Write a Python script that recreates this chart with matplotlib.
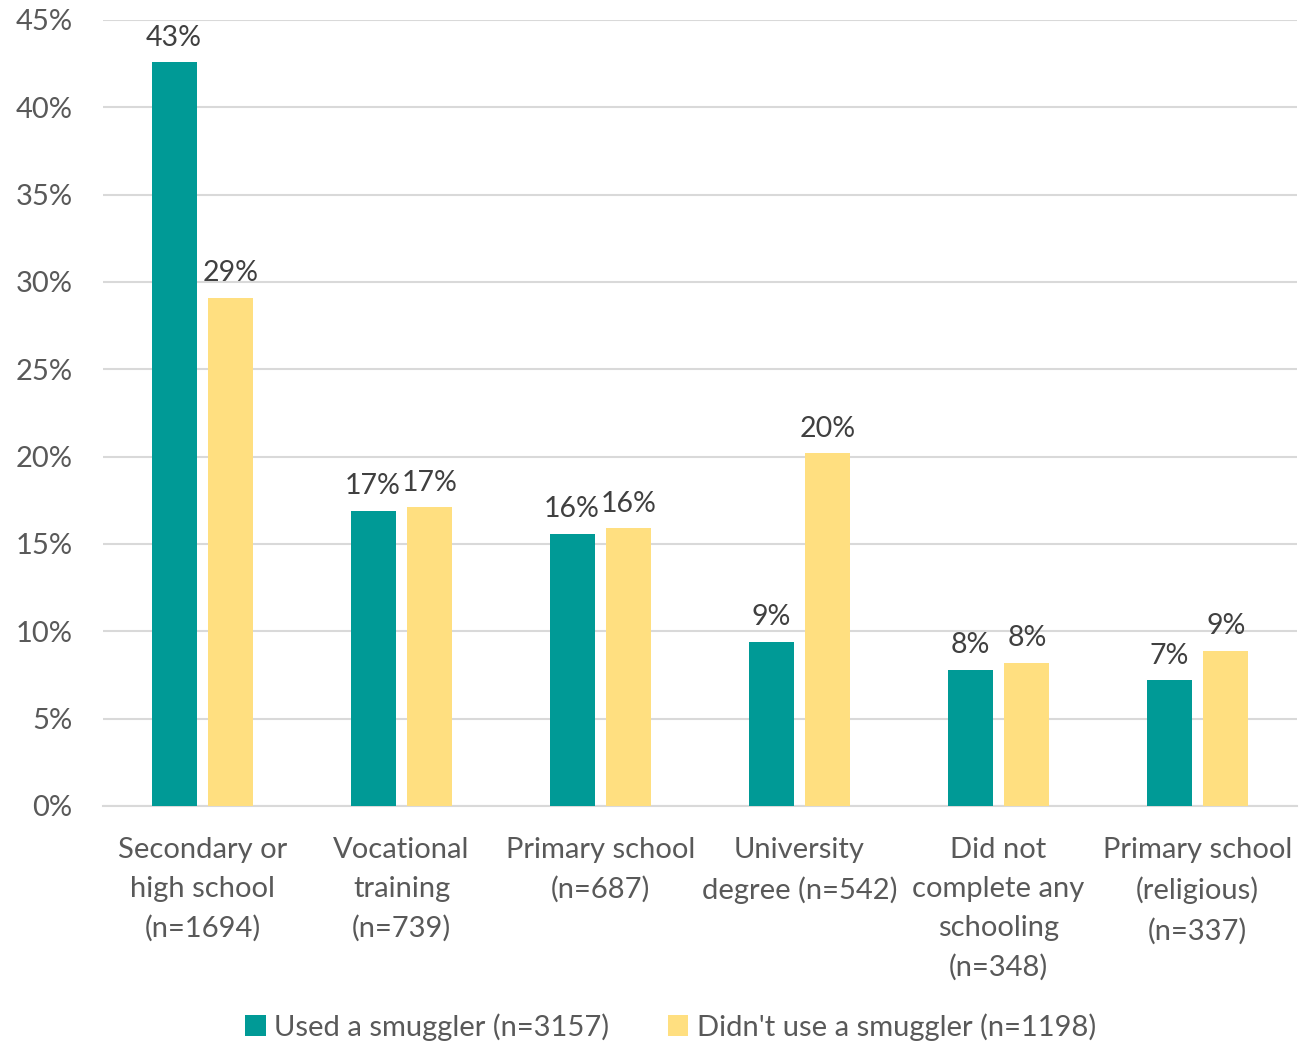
import numpy as np
import matplotlib.pyplot as plt

categories = ["Secondary or\nhigh school\n(n=1694)", "Vocational\ntraining\n(n=739)",
              "Primary school\n(n=687)", "University\ndegree (n=542)",
              "Did not\ncomplete any\nschooling\n(n=348)", "Primary school\n(religious)\n(n=337)"]
used = [42.6, 16.9, 15.6, 9.4, 7.8, 7.2]
not_used = [29.1, 17.1, 15.9, 20.2, 8.2, 8.9]
series_names = ["Used a smuggler (n=3157)", "Didn't use a smuggler (n=1198)"]

plt.rcParams['font.family'] = ['Lato', 'DejaVu Sans']

fig = plt.figure(figsize=(13.15, 10.44), dpi=100)
ax = fig.add_axes([103 / 1315, 238 / 1044, 1194 / 1315, 786 / 1044])

x = np.arange(len(categories))
w = 0.226
off = 0.143
b1 = ax.bar(x - off, used, w, color="#009A96", label=series_names[0], zorder=3)
b2 = ax.bar(x + off, not_used, w, color="#FFDF80", label=series_names[1], zorder=3)

for bars, vals in [(b1, used), (b2, not_used)]:
    for r, v in zip(bars, vals):
        ax.text(r.get_x() + r.get_width() / 2, v + 0.65, f"{round(v):.0f}%",
                ha="center", va="bottom", fontsize=20.5, color="#404040")

ax.set_xlim(-0.5, len(categories) - 0.5)
ax.set_ylim(0, 45)
ax.set_yticks(range(0, 46, 5))
ax.set_yticklabels([f"{t}%" for t in range(0, 46, 5)])
ax.set_xticks(x)
ax.set_xticklabels(categories, linespacing=1.62)
ax.tick_params(axis="both", length=0, labelsize=21, labelcolor="#595959")
ax.tick_params(axis="x", pad=22)
ax.tick_params(axis="y", pad=22)
ax.grid(axis="y", color="#D9D9D9", linewidth=1.5, zorder=0)
for s in ["top", "right", "left"]:
    ax.spines[s].set_visible(False)
ax.spines["bottom"].set_color("#D9D9D9")
ax.spines["bottom"].set_linewidth(1.5)

fig.legend(loc="lower center", bbox_to_anchor=(0.51, -0.022), ncol=2, frameon=False,
           fontsize=21, labelcolor="#595959", handlelength=0.7, handleheight=0.7,
           handletextpad=0.3, columnspacing=2.0)

fig.savefig("out.png", dpi=100)
